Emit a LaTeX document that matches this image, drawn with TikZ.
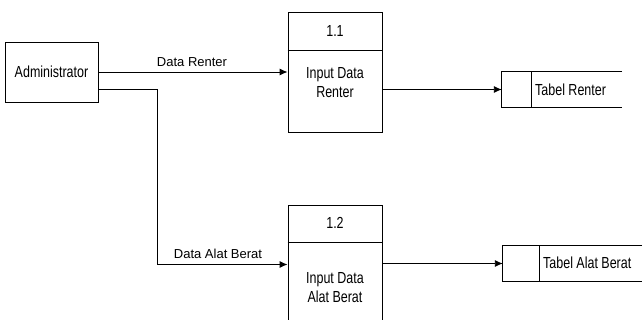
\documentclass[tikz,border=0pt]{standalone}
\usepackage{fontspec}
\setmainfont{Liberation Sans}
\newfontfamily\tallfont[FakeStretch=0.78]{Liberation Sans}
\usetikzlibrary{arrows.meta}

\begin{document}
\begin{tikzpicture}[x=1pt, y=-1pt, every node/.style = {inner sep=0pt,
                                  font=\fontsize{13}{16}\selectfont},
             box/.style={draw, shape=rectangle, line width=0.9pt},
             boxtext/.style={font=\tallfont\fontsize{16}{19}\selectfont},
             flow/.style={-{Latex[length=8pt, width=7pt]}, line width=0.9pt}]
\useasboundingbox (0,0) rectangle (644,320);

\node [box, boxtext, minimum width=93pt, minimum height=60pt] (admin) at (51.5,72) {Administrator};

% process 1.1
\node [box, minimum width=94pt, minimum height=120pt] (p11) at (335,72) {};
\draw [line width=0.9pt] (p11.west |- 0,50) -- (p11.east |- 0,50);
\node (p11num) at (335,31) [boxtext] {1.1};
\node (p11txt) at (335,83) [boxtext, align=center] {Input Data\\Renter};

% process 1.2
\node [box, minimum width=94pt, minimum height=119pt] (p12) at (335,264.5) {};
\draw [line width=0.9pt] (p12.west |- 0,242) -- (p12.east |- 0,242);
\node (p12num) at (335,223) [boxtext] {1.2};
\node (p12txt) at (335,288) [boxtext, align=center] {Input Data\\Alat Berat};

% data stores
\node [minimum width=120pt, minimum height=35pt] (trs) at (562,89.5) {};
\draw [line width=0.9pt] (trs.north east) -- (trs.north west) -- (trs.south west) -- (trs.south east);
\draw [line width=0.9pt] (trs.north west) ++(30,0) -- ++(0,35);
\node [boxtext, anchor=west] at (535,90) {Tabel Renter};

\node [minimum width=139pt, minimum height=35pt] (tab) at (572.5,263.5) {};
\draw [line width=0.9pt] (tab.north east) -- (tab.north west) -- (tab.south west) -- (tab.south east);
\draw [line width=0.9pt] (tab.north west) ++(37,0) -- ++(0,35);
\node [boxtext, anchor=west] at (543,263) {Tabel Alat Berat};

% flows
\draw [flow] (admin.east) -- (p11.west);
\node at (192,62) {Data Renter};
\draw [flow] ([yshift=-17pt]admin.east) -- ++(59,0) |- (p12.west);
\node at (218,254) {Data Alat Berat};

\draw [flow] (trs.west -| p11.east) -- (trs.west);
\draw [flow] (tab.west -| p12.east) -- (tab.west);

\end{tikzpicture}
\end{document}
